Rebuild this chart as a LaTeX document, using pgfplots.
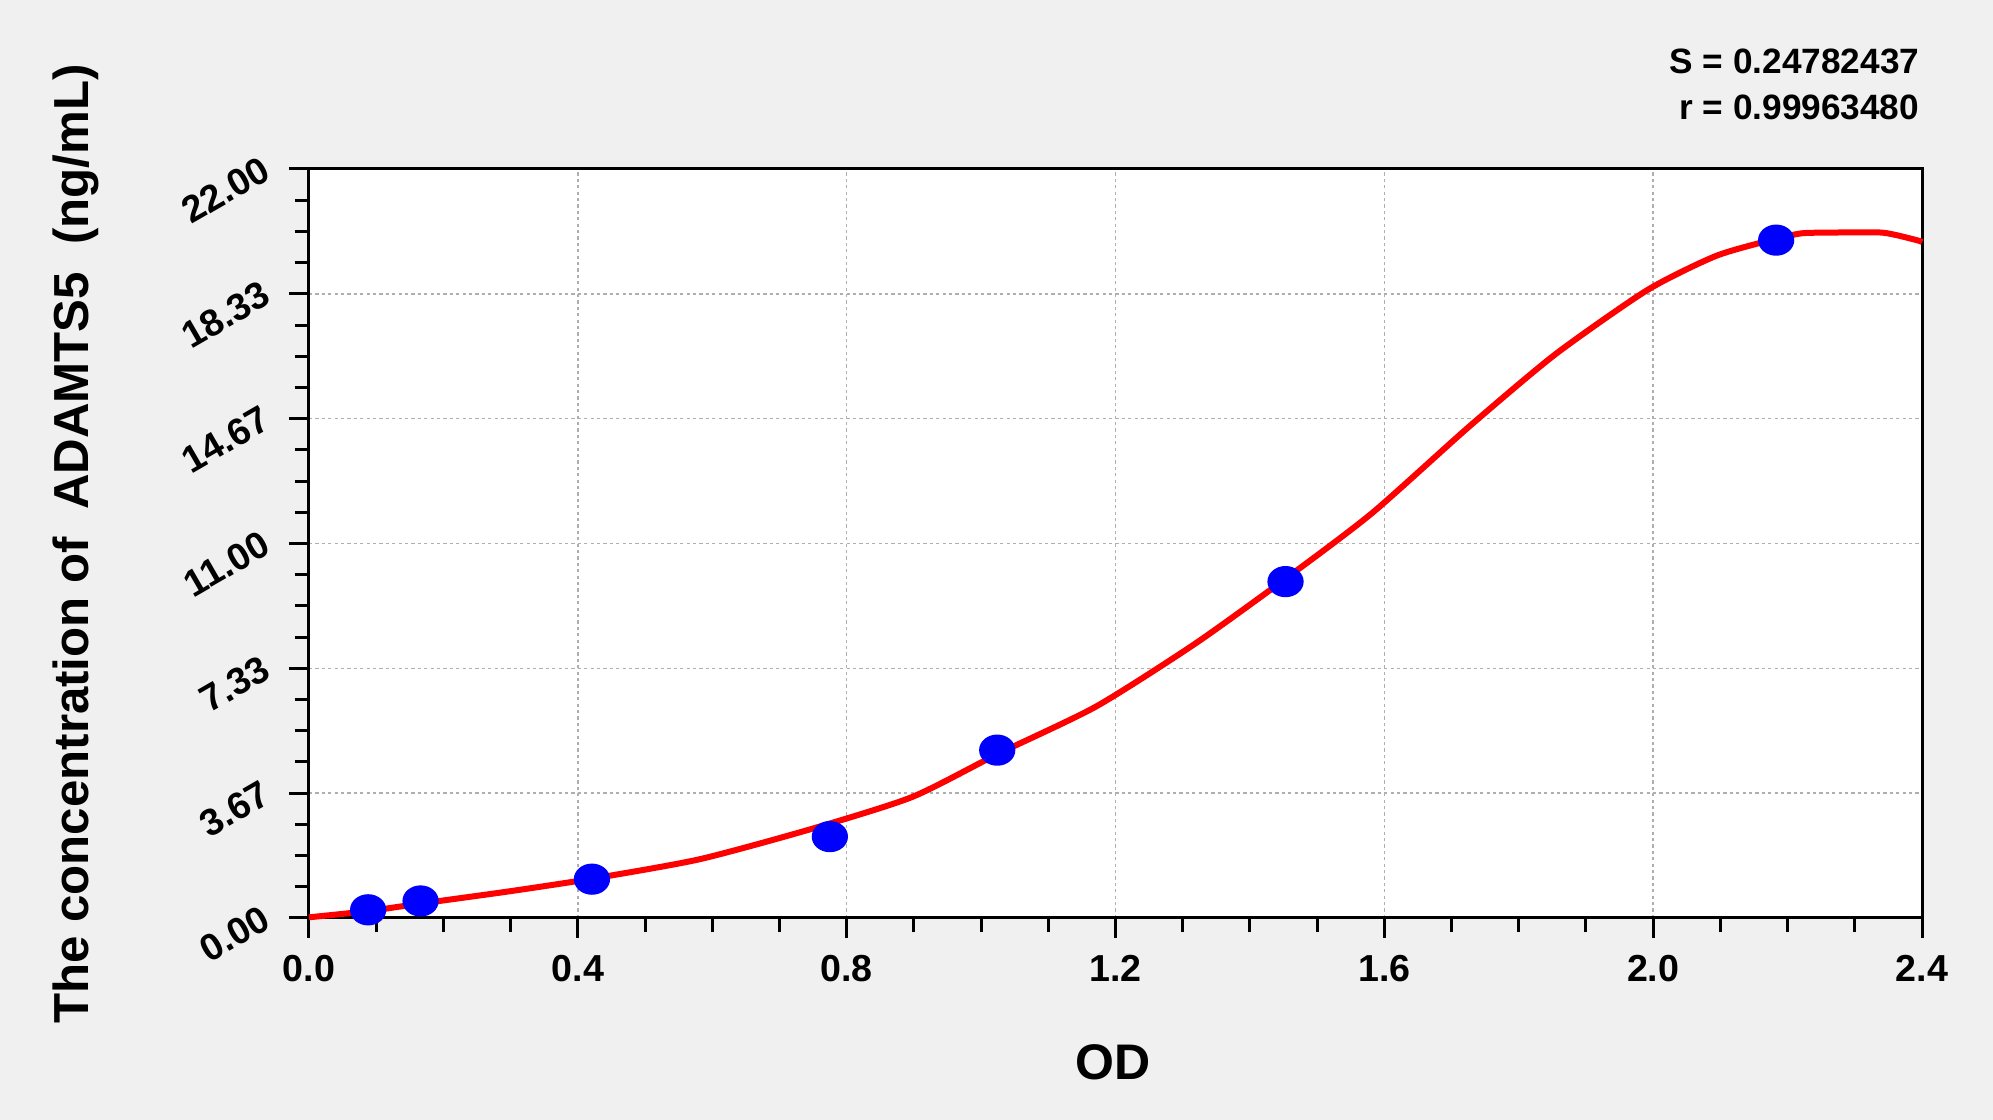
\documentclass[border=0pt]{standalone}
\usepackage{fontspec}
\setmainfont{Liberation Sans}
\usepackage{pgfplots}
\pgfplotsset{compat=1.18}
\definecolor{bgc}{RGB}{240,240,240}
\definecolor{gridc}{RGB}{175,175,175}
\begin{document}
\begin{tikzpicture}
\path[use as bounding box, fill=bgc] (-77.25pt,-50.5pt) rectangle (421pt,229.5pt);
\begin{axis}[
    at={(0,0)}, anchor=south west,
    width=403.25pt, height=187.25pt, scale only axis,
    xmin=0, xmax=2.4, ymin=0, ymax=22,
    clip=false,
    axis background/.style={fill=white},
    axis line style={line width=0.75pt},
    xtick={0,0.4,0.8,1.2,1.6,2.0,2.4},
    xticklabels={0.0,0.4,0.8,1.2,1.6,2.0,2.4},
    ytick={0,3.666667,7.333333,11,14.666667,18.333333,22},
    yticklabels={0.00,3.67,7.33,11.00,14.67,18.33,22.00},
    minor x tick num=3, minor y tick num=3,
    xtick pos=bottom, ytick pos=left,
    tick align=outside,
    major tick length=5pt, minor tick length=3.6pt,
    tick style={line width=0.75pt, black},
    grid=major,
    major grid style={gridc, line width=0.35pt, dash pattern=on 0.8pt off 0.8pt},
    xticklabel style={font=\bfseries\fontsize{9.4}{11}\selectfont, yshift=-0.8pt},
    yticklabel style={font=\bfseries\fontsize{9.4}{11}\selectfont, anchor=east, xshift=-2.6pt, yshift=2.4pt, rotate=30},
]
\addplot[red, line width=1.5pt, smooth, tension=0.4] coordinates {
(0,0.02) (0.087,0.20) (0.165,0.42) (0.297,0.78) (0.42,1.15)
(0.58,1.72) (0.745,2.6) (0.897,3.55) (1.025,4.82)
(1.171,6.21) (1.318,8.05) (1.452,9.95) (1.581,11.88) (1.726,14.43)
(1.854,16.55) (1.991,18.44) (2.094,19.45) (2.183,19.95) (2.221,20.11)
(2.26,20.13) (2.341,20.13) (2.392,19.91) (2.4,19.85)
};
\addplot[only marks, mark=*, mark size=3.7pt, mark options={draw=blue, fill=blue, xscale=1.17}] coordinates {
(0.088,0.24) (0.166,0.50) (0.421,1.14) (0.775,2.39) (1.024,4.93) (1.453,9.88) (2.183,19.91)
};
\end{axis}
\node[font=\bfseries\fontsize{12.5}{14}\selectfont] at (201pt,-36pt) {OD};
\node[font=\bfseries\fontsize{12.3}{14}\selectfont, rotate=90, anchor=base] at (-55.25pt,93.5pt) {The concentration of\ \ ADAMTS5\ \ (ng/mL)};
\node[font=\bfseries\fontsize{8.8}{10}\selectfont, anchor=base east, inner sep=0pt] at (402.75pt,211pt) {S = 0.24782437};
\node[font=\bfseries\fontsize{8.8}{10}\selectfont, anchor=base east, inner sep=0pt] at (402.75pt,199.5pt) {r = 0.99963480};
\end{tikzpicture}
\end{document}
